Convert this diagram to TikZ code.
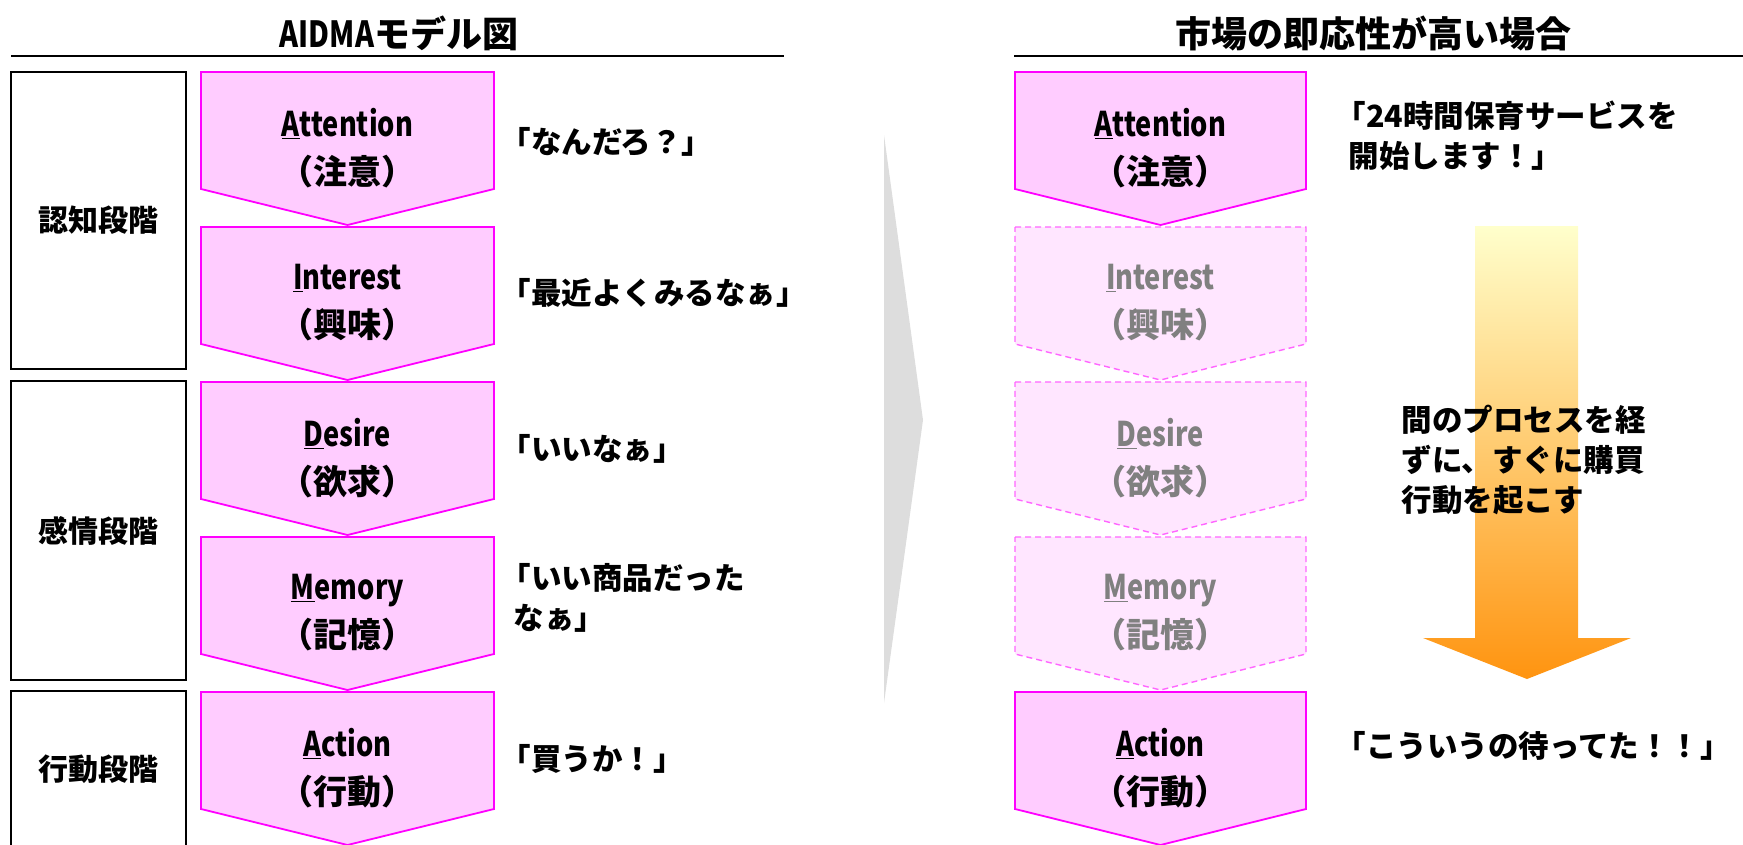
\documentclass[tikz,border=0pt]{standalone}
\usepackage{fontspec}
\setmainfont{Noto Sans CJK JP}
\newfontfamily\narrowlatin[FakeStretch=0.8]{Noto Sans CJK JP}
\usetikzlibrary{positioning}
\definecolor{chevfill}{HTML}{FFCCFF}
\definecolor{chevline}{HTML}{FF00FF}
\definecolor{fadefill}{HTML}{FFE6FF}
\definecolor{fadeline}{HTML}{FF66FF}
\definecolor{fadetext}{HTML}{808080}
\definecolor{pointer}{HTML}{DDDDDD}
\definecolor{flowtop}{HTML}{FFFFCC}
\definecolor{flowbot}{HTML}{FF9410}
\newcommand{\openq}{\kern-0.42em「}

\begin{document}
\begin{tikzpicture}[
  x=1pt, y=-1pt,
  heading/.style={font=\fontsize{36}{40}\selectfont\bfseries},
  stagebox/.style={draw=black, line width=2.5pt, minimum width=175pt,
                   font=\fontsize{30}{36}\selectfont\bfseries},
  chev/.style={draw=chevline, fill=chevfill, line width=1.8pt},
  chevfade/.style={draw=fadeline, fill=fadefill, line width=1.4pt,
                   dash pattern=on 6pt off 4pt},
  chevtext/.style={align=center, font=\fontsize{34}{48}\selectfont\bfseries},
  quote/.style={anchor=west, align=left, font=\fontsize{30.5}{40}\selectfont\bfseries}
]
  \useasboundingbox (0,0) rectangle (1743,844);

  % headings
  \node[heading] (ltitle) at (399,33) {{\narrowlatin AIDMA}モデル図};
  \node[heading] (rtitle) at (1373,33) {市場の即応性が高い場合};
  \draw[line width=2pt] (11,56) -- (784,56);
  \draw[line width=2pt] (1014,56) -- (1743,56);

  % stages
  \node[stagebox, minimum height=297pt] (cog) at (98.5,220.5) {認知段階};
  \node[stagebox, minimum height=299pt] (emo) at (98.5,530.5) {感情段階};
  \node[stagebox, minimum height=156pt] (beh) at (98.5,769) {行動段階};

  % left chevrons
  \foreach \name/\top/\first/\rest/\jp in {att/72/A/ttention/注意, int/227/I/nterest/興味,
      des/382/D/esire/欲求, mem/537/M/emory/記憶, act/692/A/ction/行動}{
    \draw[chev] (201,\top) -- (494,\top) -- (494,\top+117) -- (347.5,\top+153)
      -- (201,\top+117) -- cycle;
    \node[chevtext] (l\name) at (347.5,\top+76)
      {{\narrowlatin\underline{\first}\rest}\\（\jp）};
  }

  % voices
  \node[quote] (qatt) at (510,142) {\openq なんだろ？」};
  \node[quote] (qint) at (510,293) {\openq 最近よくみるなぁ」};
  \node[quote] (qdes) at (510,449) {\openq いいなぁ」};
  \node[quote] (qmem) at (510,598) {\openq いい商品だった\\なぁ」};
  \node[quote] (qact) at (510,759) {\openq 買うか！」};

  % pointer between the two panels
  \fill[pointer] (884,135) -- (923,420) -- (884,703) -- cycle;

  % right chevrons
  \foreach \name/\top/\first/\rest/\jp in {att/72/A/ttention/注意, act/692/A/ction/行動}{
    \draw[chev] (1015,\top) -- (1306,\top) -- (1306,\top+117) -- (1160.5,\top+153)
      -- (1015,\top+117) -- cycle;
    \node[chevtext] (r\name) at (1160.5,\top+76)
      {{\narrowlatin\underline{\first}\rest}\\（\jp）};
  }
  \foreach \name/\top/\first/\rest/\jp in {int/227/I/nterest/興味,
      des/382/D/esire/欲求, mem/537/M/emory/記憶}{
    \draw[chevfade] (1015,\top) -- (1306,\top) -- (1306,\top+117) -- (1160.5,\top+153)
      -- (1015,\top+117) -- cycle;
    \node[chevtext, text=fadetext] (r\name) at (1160.5,\top+76)
      {{\narrowlatin\underline{\first}\rest}\\（\jp）};
  }

  \node[quote] (ratt) at (1345,136) {\openq 24時間保育サービスを\\開始します！」};
  \node[quote] (ract) at (1345,746) {\openq こういうの待ってた！！」};

  % skipping arrow
  \shade[top color=flowtop, bottom color=flowbot]
    (1475,226) -- (1578,226) -- (1578,638) -- (1631,638) -- (1527,679)
    -- (1423,638) -- (1475,638) -- cycle;
  \node[quote] (skip) at (1398,460)
    {間のプロセスを経\\ずに、すぐに購買\\行動を起こす};
\end{tikzpicture}
\end{document}
